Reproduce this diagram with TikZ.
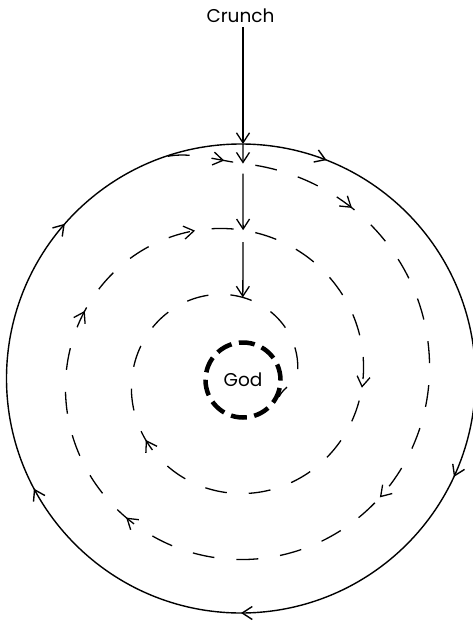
\documentclass[tikz,border=0pt]{standalone}
\usepackage{fontspec}
\setmainfont{Poppins}
\usetikzlibrary{arrows.meta,decorations.markings}
\begin{document}
\begin{tikzpicture}[x=1pt,y=1pt,
  declare function={spr(\t)=198.3+0.1838*\t; spx(\t)=231+spr(\t)*cos(\t); spy(\t)=-377.5+spr(\t)*sin(\t);},
  >={Straight Barb[length=10pt,width=13pt]},
  lbl/.style={font=\fontsize{18.5}{21}\selectfont, inner sep=0pt},
  orbit/.style={line width=1.4pt},
  spiralline/.style={line width=1.3pt, dash pattern=on 22pt off 22pt},
  fall/.style={->, line width=1.3pt},
  godring/.style={draw, circle, minimum size=75pt, line width=4.5pt, dash pattern=on 16pt off 7.5pt}
]
\useasboundingbox (0,0) rectangle (473,-624);

% centre of the outer orbit and key points
\coordinate (O) at (241,-378.5);
\coordinate (ctop) at (243,-144.01);
\coordinate (tail0) at (161,-158.1);
\coordinate (s0) at ({spx(86.8)},{spy(86.8)});
\coordinate (s1) at ({spx(-274.7)},{spy(-274.7)});
\coordinate (s2) at ({spx(-638.4)},{spy(-638.4)});

% labels
\node[lbl, anchor=base] (crunch) at (240.5,-22.5) {Crunch};
\node[godring, lbl] (god) at (243,-380) {God};

% outer solid orbit (clockwise)
\draw[orbit, postaction={decorate}, decoration={markings,
    mark=at position 0.1906 with {\arrowreversed{>}},
    mark=at position 0.3853 with {\arrowreversed{>}},
    mark=at position 0.5778 with {\arrowreversed{>}},
    mark=at position 0.75 with {\arrowreversed{>}},
    mark=at position 0.9311 with {\arrowreversed{>}}}]
  (O) circle[radius=234.5];

% dashed branch leaving the outer orbit
\draw[spiralline, dash phase=37pt, postaction={decorate}, decoration={markings,
    mark=at position 64pt with {\arrow{>}}}]
  (tail0) .. controls (185,-150) and (215,-160) .. (s0);

% dashed spiral towards God
\draw[spiralline, dash phase=31.5pt, postaction={decorate}, decoration={markings,
    mark=at position 119.3pt with {\arrow{>}},
    mark=at position 445.1pt with {\arrow{>}},
    mark=at position 726.6pt with {\arrow{>}},
    mark=at position 954.6pt with {\arrow{>}},
    mark=at position 1095.8pt with {\arrow{>}},
    mark=at position 1363.3pt with {\arrow{>}},
    mark=at position 1652.5pt with {\arrow{>}}}]
  plot[domain=86.8:-715, samples=500, variable=\t] ({spx(\t)},{spy(\t)})
  to[out=-94,in=65] (god.-25);

% vertical arrows
\draw[fall, shorten <=4.5pt] (crunch.south -| ctop) -- (ctop);
\draw[fall] (ctop) -- (s0);
\draw[fall, shorten <=10pt] (s0) -- (s1);
\draw[fall, shorten <=12pt] (s1) -- (s2);
\end{tikzpicture}
\end{document}
